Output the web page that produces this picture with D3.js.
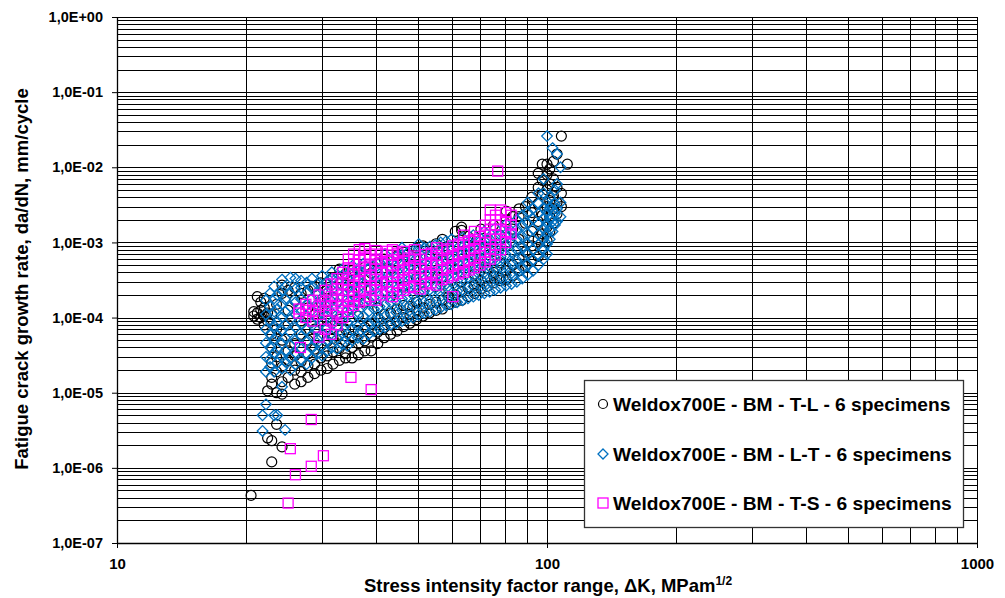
<!DOCTYPE html>
<html>
<head>
<meta charset="utf-8">
<script src="https://cdn.jsdelivr.net/npm/d3@7"></script>
<style>
  html, body { margin: 0; padding: 0; background: #fff; }
  svg { display: block; font-family: "Liberation Sans", Arial, sans-serif; }
</style>
</head>
<body>
<svg id="chart" width="1005" height="598"></svg>
<script>
// ─── Data (ΔK in MPa·m^1/2, da/dN in mm/cycle), read column by column ───

const xTicks = [10, 100, 1000];
const yTicks = [1e-7, 1e-6, 1e-5, 1e-4, 1e-3, 1e-2, 1e-1, 1];

const seriesNames = [
  "Weldox700E - BM - T-L - 6 specimens",
  "Weldox700E - BM - L-T - 6 specimens",
  "Weldox700E - BM - T-S - 6 specimens",
];

// T-L (black circles)
const tlData = [
  [20.5, [4.3e-7]],
  [20.8, [1.05e-4, 1.2e-4]],
  [21.2, [9.5e-5, 1.15e-4, 1.9e-4]],
  [21.6, [1e-4, 1.25e-4, 1.6e-4]],
  [22.0, [8e-5, 1.05e-4, 1.35e-4, 1.8e-4]],
  [22.4, [2.5e-6, 1.06e-5, 1.15e-4, 9e-5]],
  [22.9, [1.2e-6, 2.3e-6, 1.3e-5, 1.6e-5, 2.5e-5, 4e-5, 6e-5, 1.1e-4]],
  [23.5, [3.8e-6, 1e-5, 1.9e-5, 3e-5, 7e-5, 1.5e-4]],
  [24.2, [1.9e-6, 9.6e-6, 1.4e-5, 2.2e-5, 5e-5, 2.1e-4, 2.7e-4]],
  [25.0, [1.6e-5, 2.7e-5, 3.6e-5, 8e-5, 1.25e-4, 2.3e-4]],
  [25.9, [1.3e-5, 2e-5, 3.1e-5, 4.5e-5, 1.7e-4, 2.5e-4]],
  [26.8, [1.4e-5, 1.9e-5, 2.6e-5, 6e-5, 9e-5, 2.1e-4]],
  [27.8, [1.6e-5, 2.3e-5, 3.3e-5, 5e-5, 1.35e-4, 2.3e-4]],
  [28.8, [1.8e-5, 2.4e-5, 3.8e-5, 7e-5, 1.1e-4, 2.6e-4]],
  [29.8, [2e-5, 2.9e-5, 4.2e-5, 1.6e-4, 2.9e-4]],
  [30.8, [2.1e-5, 3.1e-5, 4.8e-5, 7.6e-5, 1.2e-4, 2.4e-4]],
  [31.8, [2.4e-5, 3.5e-5, 5.3e-5, 1.85e-4, 3.4e-4]],
  [32.9, [2.7e-5, 3.9e-5, 6e-5, 9.5e-5, 4.4e-4]],
  [34.0, [2.9e-5, 3.3e-5, 4.8e-5, 7e-5, 2.7e-4, 3.8e-4]],
  [35.2, [2.9e-5, 4e-5, 5.6e-5, 1.3e-4, 2.2e-4, 4.2e-4]],
  [36.4, [3.2e-5, 4.5e-5, 6.6e-5, 1.05e-4, 3.3e-4]],
  [37.7, [3.6e-5, 4.9e-5, 7.4e-5, 1.6e-4, 4.7e-4]],
  [39.0, [3.6e-5, 5.5e-5, 8.2e-5, 2.4e-4, 3.9e-4]],
  [40.4, [4.5e-5, 6.4e-5, 1e-4, 1.35e-4, 5.4e-4]],
  [41.8, [5.4e-5, 7.3e-5, 1.1e-4, 3e-4, 6e-4]],
  [43.3, [6e-5, 8e-5, 1.15e-4, 1.9e-4, 4.4e-4]],
  [44.8, [6.6e-5, 9e-5, 1.3e-4, 6.6e-4]],
  [46.4, [7.6e-5, 1e-4, 1.45e-4, 2.6e-4, 7.4e-4]],
  [48.0, [8.4e-5, 1.1e-4, 1.4e-4, 5e-4]],
  [49.7, [9.4e-5, 1.25e-4, 1.6e-4, 3.3e-4, 8.4e-4]],
  [51.5, [1.05e-4, 1.35e-4, 2.2e-4, 9e-4]],
  [53.3, [1.15e-4, 1.5e-4, 4e-4, 6.5e-4]],
  [55.2, [1.25e-4, 1.6e-4, 2.6e-4, 9.6e-4]],
  [57.1, [1.3e-4, 1.7e-4, 3.4e-4, 5.6e-4, 1.1e-3]],
  [59.1, [1.5e-4, 1.9e-4, 2.4e-4, 8e-4]],
  [61.2, [1.6e-4, 2e-4, 4.4e-4, 1.4e-3]],
  [63.3, [1.7e-4, 2.2e-4, 3e-4, 7e-4, 1.6e-3, 1.45e-3]],
  [65.5, [1.9e-4, 2.5e-4, 5.5e-4, 1.2e-3]],
  [67.8, [2.1e-4, 2.7e-4, 3.8e-4, 9e-4]],
  [70.2, [2.4e-4, 3.1e-4, 6.2e-4, 1.5e-3]],
  [72.6, [2.6e-4, 3.4e-4, 4.6e-4, 1.05e-3]],
  [75.1, [2.9e-4, 3.6e-4, 4e-4, 7.6e-4, 1.7e-3]],
  [77.7, [3.1e-4, 3.3e-4, 5.4e-4, 1.25e-3]],
  [80.4, [3.2e-4, 4.2e-4, 9e-4, 2e-3, 2.6e-3]],
  [83.2, [3.6e-4, 5e-4, 1.5e-3, 2.2e-3]],
  [86.1, [4.2e-4, 6.2e-4, 1.1e-3, 2.2e-3, 2.8e-3]],
  [89.1, [4.8e-4, 7.5e-4, 1.8e-3, 3e-3]],
  [92.2, [5.6e-4, 9e-4, 1.4e-3, 2.5e-3, 4e-3]],
  [95.4, [6.5e-4, 1.1e-3, 1.9e-3, 3.3e-3, 5.4e-3, 8.3e-3]],
  [97.5, [8e-4, 1.3e-3, 2.3e-3, 4.4e-3, 6.7e-3, 1.1e-2]],
  [100, [1.05e-3, 1.6e-3, 3e-3, 5e-3, 8e-3, 1.1e-2]],
  [101.5, [1.4e-3, 2.2e-3, 3.6e-3, 6e-3, 9.5e-3]],
  [103.5, [1.8e-3, 2.8e-3, 4.2e-3, 7e-3, 1.2e-2]],
  [105.5, [2.4e-3, 3.4e-3, 5.4e-3, 1.5e-2]],
  [108, [3e-3, 4.5e-3, 2.6e-2]],
  [111.5, [1.1e-2]],
];

// L-T (blue diamonds)
const ltData = [
  [21.8, [3.1e-6, 5e-6]],
  [22.2, [7e-6, 1.9e-5, 3e-5, 4.6e-5, 7e-5, 1.1e-4, 1.7e-4]],
  [22.7, [2.2e-5, 2.8e-5, 4e-5, 6e-5, 9e-5, 1.4e-4, 2.1e-4]],
  [23.2, [5e-6, 1.9e-5, 3.4e-5, 5.2e-5, 7.8e-5, 1.2e-4, 1.8e-4, 2.6e-4]],
  [23.6, [5e-6, 2.5e-5, 3.8e-5, 5.8e-5, 8.8e-5, 1.3e-4, 2e-4]],
  [24.2, [1.2e-5, 2.1e-5, 3e-5, 4.5e-5, 6.8e-5, 1e-4, 1.5e-4, 2.3e-4, 3.2e-4]],
  [24.6, [3.2e-6, 2.6e-5, 3.6e-5, 5.4e-5, 8e-5, 1.2e-4, 1.75e-4, 2.6e-4]],
  [25.3, [2e-5, 2.9e-5, 4.3e-5, 6.4e-5, 9.5e-5, 1.4e-4, 2.1e-4, 3.4e-4]],
  [26.0, [2.4e-5, 3.4e-5, 5e-5, 7.4e-5, 1.1e-4, 1.6e-4, 2.4e-4, 3.3e-4]],
  [26.8, [2.7e-5, 3.8e-5, 5.6e-5, 8.2e-5, 1.2e-4, 1.75e-4, 2.5e-4, 3.1e-4]],
  [27.6, [2.4e-5, 3.3e-5, 4.7e-5, 6.8e-5, 1e-4, 1.45e-4, 2.1e-4, 2.9e-4]],
  [28.4, [2.9e-5, 4.1e-5, 5.9e-5, 8.6e-5, 1.25e-4, 1.8e-4, 2.6e-4, 3.3e-4]],
  [29.2, [3.3e-5, 4.6e-5, 6.6e-5, 9.6e-5, 1.4e-4, 2e-4, 2.8e-4]],
  [30.0, [3.1e-5, 4.3e-5, 6.1e-5, 8.8e-5, 1.3e-4, 1.85e-4, 2.6e-4, 3.6e-4]],
  [30.8, [3.6e-5, 5e-5, 7.2e-5, 1.05e-4, 1.5e-4, 2.15e-4, 3e-4]],
  [31.6, [4e-5, 5.6e-5, 8e-5, 1.15e-4, 1.65e-4, 2.35e-4, 3.3e-4, 4e-4]],
  [32.5, [3.8e-5, 5.3e-5, 7.6e-5, 1.1e-4, 1.6e-4, 2.25e-4, 3.1e-4]],
  [33.4, [4.4e-5, 6.2e-5, 8.9e-5, 1.28e-4, 1.85e-4, 2.6e-4, 3.6e-4, 4.4e-4]],
  [34.3, [4.2e-5, 6e-5, 8.6e-5, 1.23e-4, 1.75e-4, 2.5e-4, 3.4e-4]],
  [35.3, [5e-5, 7e-5, 1e-4, 1.42e-4, 2e-4, 2.8e-4, 3.9e-4, 4.9e-4]],
  [36.3, [5.4e-5, 7.6e-5, 1.08e-4, 1.55e-4, 2.2e-4, 3.1e-4, 4.2e-4]],
  [37.4, [5.2e-5, 7.3e-5, 1.05e-4, 1.5e-4, 2.1e-4, 2.95e-4, 4e-4, 5.2e-4]],
  [38.5, [6e-5, 8.4e-5, 1.2e-4, 1.7e-4, 2.4e-4, 3.4e-4, 4.6e-4]],
  [39.6, [6.6e-5, 9.2e-5, 1.3e-4, 1.85e-4, 2.6e-4, 3.6e-4, 5e-4]],
  [40.8, [7e-5, 9.8e-5, 1.4e-4, 1.95e-4, 2.75e-4, 3.8e-4, 5.4e-4]],
  [42.0, [7.4e-5, 1.04e-4, 1.48e-4, 2.1e-4, 2.95e-4, 4.1e-4, 5.6e-4, 7e-4]],
  [43.3, [8e-5, 1.12e-4, 1.6e-4, 2.25e-4, 3.15e-4, 4.4e-4, 6e-4]],
  [44.6, [8.4e-5, 1.18e-4, 1.66e-4, 2.35e-4, 3.3e-4, 4.6e-4, 6.4e-4]],
  [46.0, [9e-5, 1.26e-4, 1.78e-4, 2.5e-4, 3.5e-4, 4.9e-4, 6.8e-4, 8.5e-4]],
  [47.4, [9.6e-5, 1.35e-4, 1.9e-4, 2.65e-4, 3.7e-4, 5.2e-4, 7.2e-4]],
  [48.8, [1e-4, 1.42e-4, 2e-4, 2.8e-4, 3.9e-4, 5.5e-4, 7.6e-4]],
  [50.3, [1.08e-4, 1.52e-4, 2.15e-4, 3e-4, 4.2e-4, 5.9e-4, 8.2e-4, 9.5e-4]],
  [51.8, [1.15e-4, 1.6e-4, 2.25e-4, 3.15e-4, 4.4e-4, 6.1e-4, 8.4e-4]],
  [53.4, [1.2e-4, 1.68e-4, 2.35e-4, 3.3e-4, 4.6e-4, 6.4e-4, 8.8e-4]],
  [55.0, [1.28e-4, 1.8e-4, 2.5e-4, 3.5e-4, 4.9e-4, 6.8e-4, 9.2e-4]],
  [56.6, [1.35e-4, 1.9e-4, 2.65e-4, 3.7e-4, 5.2e-4, 7.2e-4, 1e-3]],
  [58.3, [1.45e-4, 2e-4, 2.8e-4, 3.9e-4, 5.4e-4, 7.5e-4, 1.04e-3]],
  [60.0, [1.5e-4, 2.1e-4, 2.95e-4, 4.1e-4, 5.7e-4, 7.9e-4, 1.1e-3]],
  [61.8, [1.6e-4, 2.25e-4, 3.1e-4, 4.3e-4, 6e-4, 8.3e-4]],
  [63.6, [1.7e-4, 2.35e-4, 3.25e-4, 4.5e-4, 6.3e-4, 8.7e-4, 1.15e-3]],
  [65.5, [1.8e-4, 2.5e-4, 3.45e-4, 4.8e-4, 6.6e-4, 9.1e-4]],
  [67.4, [1.9e-4, 2.6e-4, 3.6e-4, 5e-4, 6.9e-4, 9.5e-4, 1.25e-3]],
  [69.4, [2e-4, 2.75e-4, 3.8e-4, 5.3e-4, 7.3e-4, 1e-3]],
  [71.5, [2.1e-4, 2.9e-4, 4e-4, 5.5e-4, 7.6e-4, 1.05e-3, 1.4e-3]],
  [73.6, [2.2e-4, 3.05e-4, 4.2e-4, 5.8e-4, 8e-4, 1.1e-3]],
  [75.8, [2.35e-4, 3.25e-4, 4.5e-4, 6.2e-4, 8.5e-4, 1.17e-3, 1.55e-3]],
  [78.0, [2.5e-4, 3.45e-4, 4.75e-4, 6.5e-4, 9e-4, 1.25e-3]],
  [80.3, [2.65e-4, 3.65e-4, 5e-4, 6.9e-4, 9.5e-4, 1.3e-3, 1.75e-3]],
  [82.7, [2.8e-4, 3.9e-4, 5.4e-4, 7.4e-4, 1.02e-3, 1.4e-3]],
  [85.1, [3e-4, 4.2e-4, 5.8e-4, 8e-4, 1.1e-3, 1.5e-3, 2e-3]],
  [87.6, [3.3e-4, 4.6e-4, 6.3e-4, 8.7e-4, 1.2e-3, 1.65e-3, 2.3e-3]],
  [90.2, [3.7e-4, 5.1e-4, 7e-4, 9.6e-4, 1.3e-3, 1.8e-3, 2.5e-3, 3.4e-3]],
  [92.8, [4.2e-4, 5.8e-4, 8e-4, 1.1e-3, 1.5e-3, 2.05e-3, 2.8e-3]],
  [95.5, [5e-4, 6.8e-4, 9.3e-4, 1.28e-3, 1.75e-3, 2.4e-3, 3.3e-3, 4.5e-3]],
  [98.2, [6e-4, 8.2e-4, 1.12e-3, 1.55e-3, 2.1e-3, 2.9e-3, 4.5e-3, 7e-3]],
  [100, [7e-4, 9.5e-4, 1.3e-3, 1.8e-3, 2.5e-3, 3.5e-3, 2.6e-2]],
  [101.5, [1.1e-3, 1.5e-3, 2.1e-3, 2.9e-3, 4e-3]],
  [103, [1.4e-3, 1.9e-3, 2.7e-3, 1.8e-2]],
  [104.3, [1.7e-3, 2.4e-3, 3.3e-3, 5e-3]],
  [105.5, [1.9e-3, 2.8e-3, 6e-3, 1.5e-2]],
  [107.5, [2.2e-3, 3.4e-3, 1e-2]],
];

// T-S (magenta squares)
const tsData = [
  [25.0, [3.4e-7]],
  [25.3, [1.8e-6]],
  [26.0, [8.1e-7]],
  [26.5, [1.15e-4, 1.3e-4]],
  [26.7, [4e-5]],
  [27.5, [1e-4, 1.25e-4, 1.5e-4]],
  [28.3, [1.05e-6, 4.4e-6]],
  [28.5, [9e-5, 1.2e-4, 1.7e-4]],
  [29.5, [5.5e-5, 1.1e-4, 1.4e-4, 2e-4]],
  [30.2, [1.45e-6]],
  [30.5, [7e-5, 1.25e-4, 1.6e-4, 2.3e-4]],
  [31.5, [6e-5, 9e-5, 1.45e-4, 1.9e-4, 2.8e-4]],
  [32.5, [8e-5, 1.15e-4, 1.7e-4, 2.4e-4, 3.3e-4]],
  [33.5, [1e-4, 1.4e-4, 2e-4, 2.8e-4, 4e-4]],
  [34.5, [1.2e-4, 1.7e-4, 2.3e-4, 3.2e-4, 4.6e-4, 6e-4]],
  [35.0, [1.6e-5]],
  [35.5, [1.45e-4, 1.9e-4, 2.6e-4, 3.7e-4, 5.2e-4, 7e-4]],
  [36.6, [1.6e-4, 2.2e-4, 3e-4, 4.2e-4, 5.8e-4, 8e-4]],
  [37.7, [1.7e-4, 2.4e-4, 3.3e-4, 4.6e-4, 6.4e-4, 8.3e-4]],
  [38.8, [1.9e-4, 2.6e-4, 3.6e-4, 5e-4, 7e-4]],
  [39.0, [1.1e-5]],
  [40.0, [1.7e-4, 2.3e-4, 3.2e-4, 4.4e-4, 6e-4, 7.8e-4]],
  [41.2, [2e-4, 2.8e-4, 3.9e-4, 5.4e-4, 7e-4]],
  [42.5, [2.2e-4, 3e-4, 4.1e-4, 5.6e-4, 7.6e-4]],
  [43.7, [1.9e-4, 2.6e-4, 3.6e-4, 5e-4, 6.8e-4, 8e-4]],
  [45.0, [2.1e-4, 2.9e-4, 4e-4, 5.4e-4, 7.2e-4]],
  [46.4, [2.3e-4, 3.2e-4, 4.3e-4, 5.8e-4, 7.6e-4]],
  [47.8, [2.5e-4, 3.4e-4, 4.6e-4, 6.2e-4]],
  [49.2, [2.6e-4, 3.6e-4, 4.9e-4, 6.6e-4, 8e-4]],
  [50.7, [2.4e-4, 3.3e-4, 4.5e-4, 6e-4]],
  [52.2, [2.8e-4, 3.8e-4, 5.1e-4, 6.9e-4]],
  [53.8, [2.9e-4, 4e-4, 5.4e-4, 7.2e-4]],
  [55.4, [2.7e-4, 3.7e-4, 5e-4, 6.7e-4, 8.5e-4]],
  [57.0, [3.2e-4, 4.3e-4, 5.8e-4, 7.8e-4]],
  [58.7, [3.4e-4, 4.6e-4, 6.2e-4, 8.2e-4]],
  [60.4, [1.9e-4, 3.6e-4, 4.9e-4, 6.6e-4, 9e-4]],
  [62.2, [3.8e-4, 5.2e-4, 7e-4, 9.5e-4]],
  [64.0, [4e-4, 5.5e-4, 7.4e-4, 1e-3, 1.25e-3]],
  [65.9, [4.3e-4, 5.8e-4, 7.8e-4, 1.05e-3]],
  [67.8, [4.6e-4, 6.2e-4, 8.3e-4, 1.1e-3, 1.4e-3]],
  [69.8, [5e-4, 6.7e-4, 9e-4, 1.2e-3]],
  [71.8, [5.5e-4, 7.4e-4, 1e-3, 1.35e-3, 1.7e-3]],
  [73.8, [6e-4, 8.2e-4, 1.1e-3, 1.5e-3, 2e-3, 2.7e-3]],
  [75.9, [6.8e-4, 9.2e-4, 1.25e-3, 1.7e-3, 2.3e-3]],
  [76.8, [8.9e-3]],
  [78.0, [8e-4, 1.1e-3, 1.5e-3, 2e-3, 2.7e-3]],
  [80.2, [1e-3, 1.4e-3, 1.9e-3, 2.5e-3]],
  [82.5, [1.3e-3, 1.7e-3, 2.3e-3]],
];

// ─── Layout ───
const margin = { left: 117, top: 17, right: 28, bottom: 56 };
const W = 1005, H = 598;
const FONT = '"Liberation Sans", Arial, sans-serif';

const svg = d3.select("#chart");

const x = d3.scaleLog().domain([10, 1000]).range([margin.left, W - margin.right]);
const y = d3.scaleLog().domain([1e-7, 1]).range([H - margin.bottom + 1, margin.top]);

// flatten column data to points
const toPoints = cols => cols.flatMap(([k, vs]) => vs.map(v => ({ k, v })));

// ─── Grid ───
const xGrid = [];
for (let d = 10; d < 1000; d *= 10) for (let m = 1; m <= 9; m++) xGrid.push(d * m);
xGrid.push(1000);
const yGrid = [];
for (let d = 1e-7; d < 0.99; d *= 10) for (let m = 1; m <= 9; m++) yGrid.push(+(d * m).toPrecision(3));
yGrid.push(1);

const grid = svg.append("g").attr("shape-rendering", "crispEdges");
grid.selectAll("line.h").data(yGrid).join("line")
  .attr("x1", x(10)).attr("x2", x(1000))
  .attr("y1", d => Math.round(y(d)) + 0.5).attr("y2", d => Math.round(y(d)) + 0.5)
  .attr("stroke", "#000").attr("stroke-width", 1);
grid.selectAll("line.v").data(xGrid).join("line")
  .attr("x1", d => Math.round(x(d)) + 0.5).attr("x2", d => Math.round(x(d)) + 0.5)
  .attr("y1", y(1)).attr("y2", y(1e-7))
  .attr("stroke", "#000").attr("stroke-width", 1);

// ─── Markers ───
const plot = svg.append("g");

plot.append("g").selectAll("circle").data(toPoints(tlData)).join("circle")
  .attr("cx", d => x(d.k)).attr("cy", d => y(d.v)).attr("r", 5)
  .attr("fill", "none").attr("stroke", "#000").attr("stroke-width", 1.2);

const diamond = "M0,-5.3L5.3,0L0,5.3L-5.3,0Z";
plot.append("g").selectAll("path").data(toPoints(ltData)).join("path")
  .attr("d", diamond)
  .attr("transform", d => `translate(${x(d.k)},${y(d.v)})`)
  .attr("fill", "none").attr("stroke", "#0070C0").attr("stroke-width", 1.3);

plot.append("g").selectAll("rect").data(toPoints(tsData)).join("rect")
  .attr("x", d => x(d.k) - 5).attr("y", d => y(d.v) - 5)
  .attr("width", 10).attr("height", 10)
  .attr("fill", "none").attr("stroke", "#FF00FF").attr("stroke-width", 1.3);

// ─── Axes ───
const expFmt = v => {
  const e = Math.round(Math.log10(v));
  return "1,0E" + (e >= 0 ? "+" : "-") + String(Math.abs(e)).padStart(2, "0");
};

const yAxis = svg.append("g")
  .attr("transform", `translate(${x(10)},0)`)
  .call(d3.axisLeft(y).tickValues(yTicks).tickFormat(expFmt).tickSize(5).tickSizeOuter(0).tickPadding(9));
yAxis.select(".domain").attr("stroke", "#000").attr("stroke-width", 1.3);
yAxis.selectAll("text")
  .attr("font-family", FONT).attr("font-size", 14.5).attr("font-weight", "bold").attr("fill", "#000");

const xAxis = svg.append("g")
  .attr("transform", `translate(0,${y(1e-7)})`)
  .call(d3.axisBottom(x).tickValues(xTicks).tickFormat(d3.format("d")).tickSize(5).tickSizeOuter(0));
xAxis.select(".domain").attr("stroke", "#000").attr("stroke-width", 1.3);
xAxis.selectAll("text")
  .attr("y", 26).attr("dy", 0)
  .attr("font-family", FONT).attr("font-size", 15).attr("font-weight", "bold").attr("fill", "#000");

// axis titles
const xTitle = svg.append("text")
  .attr("x", 548).attr("y", 592)
  .attr("text-anchor", "middle")
  .attr("font-family", FONT).attr("font-size", 18.5).attr("font-weight", "bold");
xTitle.append("tspan").text("Stress intensity factor range, \u0394K, MPam");
xTitle.append("tspan").attr("dy", -7).attr("font-size", 12).text("1/2");

svg.append("text")
  .attr("transform", "translate(28,279) rotate(-90)")
  .attr("text-anchor", "middle")
  .attr("font-family", FONT).attr("font-size", 18.5).attr("font-weight", "bold")
  .text("Fatigue crack growth rate, da/dN, mm/cycle");

// ─── Legend ───
const legend = svg.append("g");
legend.append("rect")
  .attr("x", 584.5).attr("y", 380.5).attr("width", 379).attr("height", 147)
  .attr("fill", "#fff").attr("stroke", "#333").attr("stroke-width", 1.3);

const legendRows = [404, 454, 503];
const lg = legend.selectAll("g.item").data(seriesNames).join("g")
  .attr("transform", (d, i) => `translate(603,${legendRows[i]})`);
lg.each(function(d, i) {
  const g = d3.select(this);
  if (i === 0) g.append("circle").attr("r", 4.5).attr("fill", "none").attr("stroke", "#000").attr("stroke-width", 1.2);
  if (i === 1) g.append("path").attr("d", "M0,-5L5,0L0,5L-5,0Z").attr("fill", "none").attr("stroke", "#0070C0").attr("stroke-width", 1.3);
  if (i === 2) g.append("rect").attr("x", -5).attr("y", -5).attr("width", 10).attr("height", 10).attr("fill", "none").attr("stroke", "#FF00FF").attr("stroke-width", 1.3);
  g.append("text")
    .attr("x", 10).attr("y", 6.5)
    .attr("font-family", FONT).attr("font-size", 19.2).attr("font-weight", "bold")
    .text(d);
});
</script>
</body>
</html>
